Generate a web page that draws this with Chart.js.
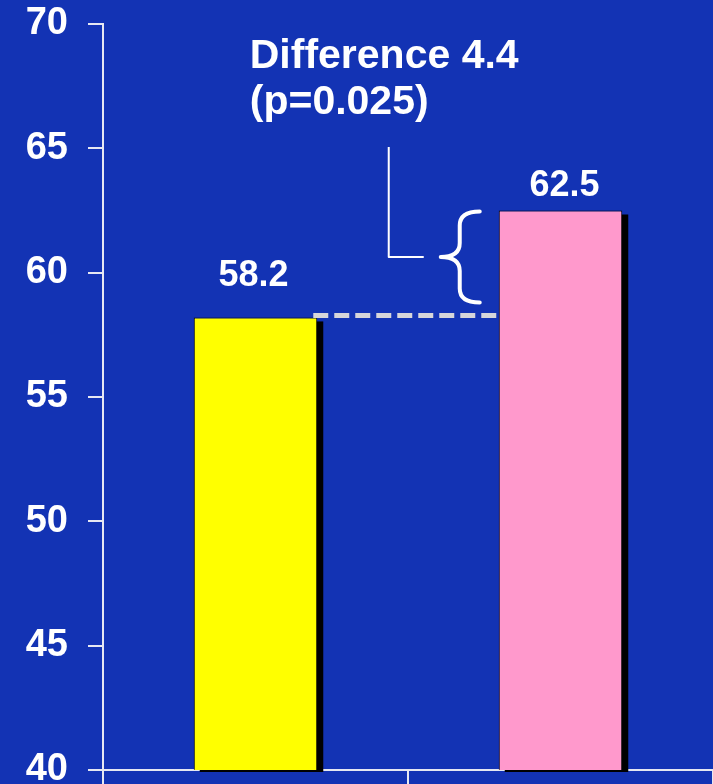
<!DOCTYPE html>
<html>
<head>
<meta charset="utf-8">
<script src="https://cdn.jsdelivr.net/npm/chart.js@4"></script>
<style>
  html, body { margin: 0; padding: 0; background: #1333b4; overflow: hidden; }
  canvas { display: block; }
</style>
</head>
<body>
<canvas id="chart" width="713" height="784"></canvas>
<script>
// Bar values and their printed labels
const categories = ['Group 1', 'Group 2'];
const values = [58.2, 62.5];
const valueLabels = ['58.2', '62.5'];
const barColors = ['#ffff00', '#ff99cc'];
// Y axis range and tick step
const yMin = 40;
const yMax = 70;
const yStep = 5;
// Annotation text above the comparison bracket
const noteLines = ['Difference 4.4', '(p=0.025)'];

const BG = '#1333b4';
const AXIS = '#e6e8f2';
const FONT = '"Liberation Sans", Arial, Helvetica, sans-serif';

// Solid page background
const background = {
  id: 'background',
  beforeDraw(chart) {
    const ctx = chart.ctx;
    ctx.save();
    ctx.fillStyle = BG;
    ctx.fillRect(0, 0, chart.width, chart.height);
    ctx.restore();
  }
};

// Hard black drop shadow behind each bar
const barShadow = {
  id: 'barShadow',
  beforeDatasetsDraw(chart) {
    const ctx = chart.ctx;
    const floor = chart.chartArea.bottom;
    ctx.save();
    ctx.fillStyle = '#000';
    chart.getDatasetMeta(0).data.forEach(bar => {
      const p = bar.getProps(['x', 'y', 'base', 'width'], true);
      const base = Math.min(p.base, floor);
      ctx.fillRect(p.x - p.width / 2 + 6, p.y + 4, p.width, base - p.y - 2);
    });
    ctx.restore();
  }
};

// Value printed above each bar
const valueText = {
  id: 'valueText',
  afterDatasetsDraw(chart, args, opts) {
    const ctx = chart.ctx;
    ctx.save();
    ctx.fillStyle = '#fff';
    ctx.font = 'bold 36px ' + FONT;
    ctx.textAlign = 'center';
    ctx.textBaseline = 'alphabetic';
    chart.getDatasetMeta(0).data.forEach((bar, i) => {
      const p = bar.getProps(['x', 'y'], true);
      ctx.fillText(valueLabels[i], p.x + opts.dx[i], p.y - opts.gap[i]);
    });
    ctx.restore();
  }
};

// Dashed reference line, brace, leader line and note text
const comparison = {
  id: 'comparison',
  afterDraw(chart) {
    const ctx = chart.ctx;
    const ys = chart.scales.y;
    const bars = chart.getDatasetMeta(0).data;
    const a = bars[0].getProps(['x', 'width'], true);
    const b = bars[1].getProps(['x', 'width'], true);
    const yLow = ys.getPixelForValue(values[0]);
    const yHigh = ys.getPixelForValue(values[1]);
    const bLeft = b.x - b.width / 2;

    ctx.save();
    // dashed line level with the lower bar
    ctx.strokeStyle = '#d6d6da';
    ctx.lineWidth = 5;
    ctx.setLineDash([15, 6]);
    ctx.beginPath();
    ctx.moveTo(a.x + a.width / 2 - 4, yLow - 2);
    ctx.lineTo(bLeft, yLow - 2);
    ctx.stroke();
    ctx.setLineDash([]);

    // curly brace spanning the gap
    const top = yHigh + 1;
    const bottom = yLow - 15;
    const mid = (top + bottom) / 2;
    const xr = bLeft - 19;
    const xs = bLeft - 39;
    const xt = bLeft - 58;
    const r = 14;
    ctx.strokeStyle = '#fff';
    ctx.lineWidth = 4;
    ctx.lineCap = 'round';
    ctx.lineJoin = 'round';
    ctx.beginPath();
    ctx.moveTo(xr, top);
    ctx.quadraticCurveTo(xs, top, xs, top + r);
    ctx.lineTo(xs, mid - r);
    ctx.quadraticCurveTo(xs, mid, xt, mid);
    ctx.quadraticCurveTo(xs, mid, xs, mid + r);
    ctx.lineTo(xs, bottom - r);
    ctx.quadraticCurveTo(xs, bottom, xr, bottom);
    ctx.stroke();

    // leader from the note down to the brace
    const area = chart.chartArea;
    const lx = xt - 52;
    ctx.lineWidth = 2;
    ctx.lineCap = 'butt';
    ctx.beginPath();
    ctx.moveTo(lx, area.top + 123);
    ctx.lineTo(lx, mid);
    ctx.lineTo(xt - 17, mid);
    ctx.stroke();

    // note text
    ctx.fillStyle = '#fff';
    ctx.font = 'bold 41px ' + FONT;
    ctx.textAlign = 'left';
    ctx.textBaseline = 'alphabetic';
    ctx.fillText(noteLines[0], lx - 139, area.top + 44);
    ctx.fillText(noteLines[1], lx - 139, area.top + 90);
    ctx.restore();
  }
};

new Chart(document.getElementById('chart'), {
  type: 'bar',
  data: {
    labels: categories,
    datasets: [{
      data: values,
      backgroundColor: barColors,
      borderColor: '#000',
      borderWidth: 1,
      borderSkipped: 'bottom',
      categoryPercentage: 1,
      barPercentage: 0.405
    }]
  },
  options: {
    responsive: false,
    animation: false,
    devicePixelRatio: 1,
    layout: { padding: { top: 24, right: 0, bottom: 0, left: 0 } },
    plugins: {
      legend: { display: false },
      tooltip: { enabled: false },
      valueText: { gap: [31, 15], dx: [-2, 4] }
    },
    scales: {
      x: {
        offset: true,
        ticks: { display: false },
        grid: {
          display: true,
          offset: true,
          drawOnChartArea: false,
          drawTicks: true,
          tickLength: 14,
          color: AXIS,
          lineWidth: 2
        },
        border: { display: true, color: AXIS, width: 2 },
        afterFit(scale) { scale.height = 14; }
      },
      y: {
        min: yMin,
        max: yMax,
        ticks: {
          stepSize: yStep,
          color: '#fff',
          padding: 20,
          font: { family: FONT, size: 38, weight: 'bold' }
        },
        grid: {
          drawOnChartArea: false,
          drawTicks: true,
          tickLength: 15,
          color: AXIS,
          lineWidth: 2
        },
        border: { display: true, color: AXIS, width: 2 },
        afterFit(scale) {
          scale.width = 103;
          scale.paddingTop = 0;
          scale.paddingBottom = 0;
        }
      }
    }
  },
  plugins: [background, barShadow, valueText, comparison]
});
</script>
</body>
</html>
